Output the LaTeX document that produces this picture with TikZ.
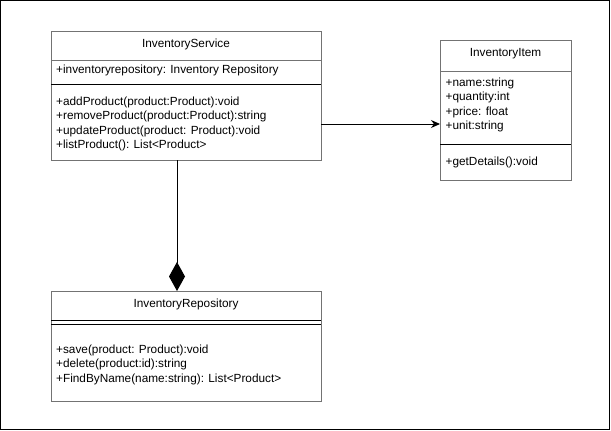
\documentclass[tikz,border=0pt]{standalone}
\usepackage{fontspec}
\setmainfont{Liberation Sans}
\usetikzlibrary{arrows.meta}
\begin{document}
\begin{tikzpicture}[x=1pt,y=-1pt,
  box/.style={draw=black!55,line width=1pt,fill=white,rectangle,anchor=north west,inner sep=0pt},
  div/.style={draw=black,line width=1pt},
  txt/.style={inner sep=0pt,anchor=west,font=\fontsize{11.8}{14}\selectfont},
  ttl/.style={inner sep=0pt,anchor=center,font=\fontsize{11.8}{14}\selectfont},
  conn/.style={draw=black,line width=1pt,-{Stealth[length=9pt,width=8pt]}},
  comp/.style={draw=black,line width=1pt,-{Diamond[length=29pt,width=16pt,fill=black]}}]
\useasboundingbox (0,0) rectangle (611,431);
\draw[black,line width=1pt] (0.5,0.5) rectangle (609.5,429.5);

% InventoryService
\node[box,minimum width=270pt,minimum height=129pt] (svc) at (51,31) {};
\draw[draw=black!55,line width=1pt] (51,60) -- (321,60);
\draw[div] (51,84.5) -- (321,84.5);
\node[ttl] (svct) at (186,44.5) {InventoryService};
\node[txt] (svca) at (56,70.5) {+inventoryrepository: Inventory Repository};
\node[txt] (svcm1) at (56,102) {+addProduct(product:Product):void};
\node[txt] (svcm2) at (56,116.5) {+removeProduct(product:Product):string};
\node[txt] (svcm3) at (56,131) {+updateProduct(product: Product):void};
\node[txt] (svcm4) at (56,145.5) {+listProduct(): List<Product>};

% InventoryItem
\node[box,minimum width=131pt,minimum height=140pt] (item) at (440,40) {};
\draw[draw=black!55,line width=1pt] (440,71) -- (571,71);
\draw[div] (440,144) -- (571,144);
\node[ttl] (itemt) at (505.5,53.5) {InventoryItem};
\node[txt] (itema1) at (445.5,83) {+name:string};
\node[txt] (itema2) at (445.5,97.5) {+quantity:int};
\node[txt] (itema3) at (445.5,112) {+price: float};
\node[txt] (itema4) at (445.5,126.5) {+unit:string};
\node[txt] (itemm1) at (445.5,162.5) {+getDetails():void};

% InventoryRepository
\node[box,minimum width=270pt,minimum height=110pt] (repo) at (51,291) {};
\draw[div] (51,320.5) -- (321,320.5);
\draw[div] (51,324.5) -- (321,324.5);
\node[ttl] (repot) at (186,304.5) {InventoryRepository};
\node[txt] (repom1) at (56,350) {+save(product: Product):void};
\node[txt] (repom2) at (56,364.5) {+delete(product:id):string};
\node[txt] (repom3) at (56,379) {+FindByName(name:string): List<Product>};

% connectors
\coordinate (a1) at (321,124);
\draw[conn] (a1) -- (item.west |- a1);
\coordinate (c1) at (177,160);
\draw[comp] (c1) -- (repo.north -| c1);
\end{tikzpicture}
\end{document}
